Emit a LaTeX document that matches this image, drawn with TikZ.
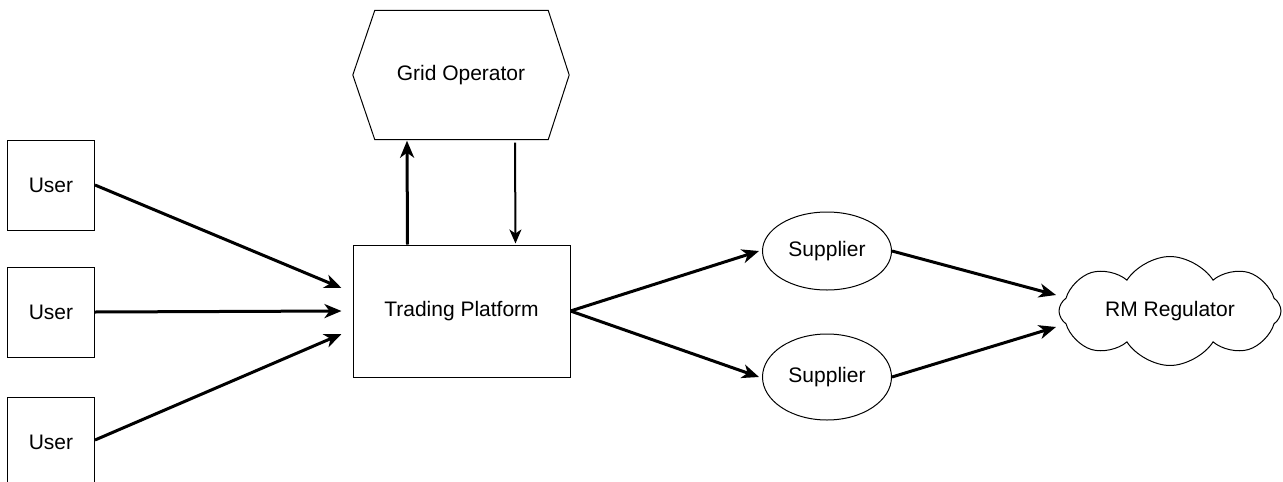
\documentclass[tikz,border=0pt]{standalone}
\usepackage{fontspec}
\setmainfont{Liberation Sans}
\usetikzlibrary{arrows.meta,shapes.geometric,shapes.symbols}
\begin{document}
\begin{tikzpicture}[x=1pt,y=1pt,
    every node/.style={font=\fontsize{21}{25}\selectfont},
    box/.style={draw,line width=1pt,rectangle,inner sep=0pt},
    flow/.style={line width=3pt,-{Stealth[length=17pt,width=14pt,inset=5pt]}},
    thinflow/.style={line width=2pt,-{Stealth[length=14pt,width=12pt,inset=4pt]}}]
  \useasboundingbox (0,0) rectangle (1283,-482);
  \foreach \n/\y in {1/-185,2/-312,3/-442} % the three users
    \node[box,minimum width=87,minimum height=90] (user\n) at (51,\y) {User};
  \node[box,minimum width=217,minimum height=132] (platform) at (461.5,-311) {Trading Platform};
  \node[minimum width=216,minimum height=129,inner sep=0pt] (grid) at (461,-75) {Grid Operator};
  \draw[line width=1pt] (grid.west) -- ([xshift=22]grid.north west) -- ([xshift=-21]grid.north east)
    -- (grid.east) -- ([xshift=-21]grid.south east) -- ([xshift=22]grid.south west) -- cycle;
  \node[ellipse,draw,line width=1pt,minimum width=129,minimum height=78,inner sep=0pt] (supp1) at (827,-251) {Supplier};
  \node[ellipse,draw,line width=1pt,minimum width=129,minimum height=86,inner sep=0pt] (supp2) at (827,-377) {Supplier};
  \node[cloud,draw,line width=1pt,cloud puffs=8,cloud puff arc=115,aspect=2.4,
        minimum width=222,minimum height=92,inner sep=0pt] (reg) at (1170,-311) {RM Regulator};

  % users to platform
  \draw[flow] (user1.east) -- ([xshift=-11,yshift=23]platform.west);
  \draw[flow] (user2.east) -- ([xshift=-11]platform.west);
  \draw[flow] ([yshift=2]user3.east) -- ([xshift=-11,yshift=-23]platform.west);
  % platform and grid
  \draw[flow] ([xshift=-54]platform.north) -- ([xshift=-54,yshift=-1]grid.south);
  \draw[thinflow] ([xshift=54,yshift=-3]grid.south) -- ([xshift=54,yshift=1]platform.north);
  % platform to suppliers
  \draw[flow] (platform.east) -- ([xshift=-3]supp1.west);
  \draw[flow] (platform.east) -- ([xshift=-3]supp2.west);
  % suppliers to regulator
  \draw[flow] (supp1.east) -- ([xshift=-114,yshift=16]reg.center);
  \draw[flow] (supp2.east) -- ([xshift=-114,yshift=-16]reg.center);
\end{tikzpicture}
\end{document}
